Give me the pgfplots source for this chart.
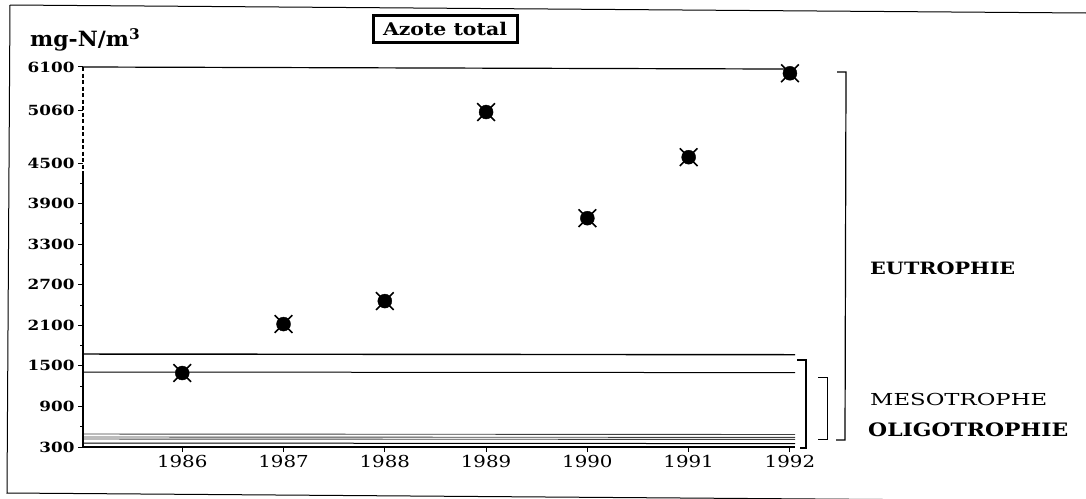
\documentclass[border=0pt]{standalone}
\usepackage{fontspec}
\setmainfont{DejaVu Serif}
\usepackage{graphicx}
\usepackage{pgfplots}
\pgfplotsset{compat=1.18}
\newcommand{\yl}[1]{\scalebox{1.2}[1]{\fontsize{14}{14}\selectfont\bfseries #1}}
\newcommand{\xl}[1]{\scalebox{1.2}[1]{\fontsize{16.5}{16.5}\selectfont #1}}
\begin{document}
\begin{tikzpicture}[x=1pt,y=1pt]
\useasboundingbox (0,0) rectangle (1086,-498);
% outer frame
\draw[line width=1pt] (10,-5) -- (1086,-13);
\draw[line width=1pt] (10,-5) -- (7,-493) -- (1086,-501);
\begin{axis}[
  at={(83pt,-447pt)}, anchor=south west,
  scale only axis, width=712pt, height=380pt,
  xmin=1985.02, xmax=1992.05,
  ymin=300, ymax=5920,
  axis x line*=bottom, axis y line*=left,
  y axis line style={draw=none},
  x axis line style={line width=1.2pt,-},
  tick align=outside,
  major tick length=5pt, minor tick length=3pt,
  tick style={black, line width=1pt},
  xtick={1986,1987,1988,1989,1990,1991,1992},
  xticklabels={\xl{1986},\xl{1987},\xl{1988},\xl{1989},\xl{1990},\xl{1991},\xl{1992}},
  ytick={300,900,1500,2100,2700,3300,3900,4500,5280,5920},
  yticklabels={\yl{300},\yl{900},\yl{1500},\yl{2100},\yl{2700},\yl{3300},\yl{3900},\yl{4500},\yl{5060},\yl{6100}},
  minor ytick={600,1200,1800,2400,3000,3600,4200},
  clip=false,
]
% threshold lines
\addplot[black, line width=1.4pt] coordinates {(1985.02,1675) (1992.05,1665)};
\addplot[black, line width=1pt] coordinates {(1985.02,1409) (1992.05,1400)};
\addplot[black!75, line width=0.9pt] coordinates {(1985.02,492) (1992.05,485)};
\addplot[black!75, line width=0.9pt] coordinates {(1985.02,448) (1992.05,442)};
\addplot[black!75, line width=0.9pt] coordinates {(1985.02,418) (1992.05,412)};
\addplot[black, line width=1pt] coordinates {(1985.02,359) (1992.05,350)};
% top line
\addplot[black, line width=1.2pt] coordinates {(1985.02,5920) (1991.97,5890)};
% data
\addplot[only marks, mark=x, mark size=12.5pt, mark options={line width=1.6pt}, black] coordinates {
(1986,1394) (1987,2118) (1988,2458) (1989,5254) (1990,3684) (1991,4586) (1992,5827)};
\addplot[only marks, mark=*, mark size=7pt, black] coordinates {
(1986,1394) (1987,2118) (1988,2458) (1989,5254) (1990,3684) (1991,4586) (1992,5827)};
\end{axis}
% left axis line: dashed on top, solid below
\draw[dash pattern=on 4pt off 2.5pt, line width=1.4pt] (83,-67) -- (83,-175);
\draw[line width=1.2pt] (83,-175) -- (83,-447);
% brackets
\draw[line width=1.2pt] (797,-360) -- (806,-360) -- (806,-448) -- (800,-448);
\draw[line width=0.9pt] (818,-377) -- (827,-377) -- (827,-439) -- (818,-439);
\draw[line width=1.2pt] (837,-72) -- (846,-72) -- (845,-440) -- (836,-440);
% title
\node[draw, line width=3pt, minimum width=144pt, minimum height=27pt, inner sep=0pt] at (445,-28.5)
  {\resizebox{124pt}{\height}{\fontsize{17.5}{18}\selectfont\bfseries Azote total}};
% unit label
\node[anchor=west, inner sep=0pt] at (30,-40)
  {\resizebox{110pt}{\height}{\fontsize{21}{21}\selectfont\bfseries mg-N/m\textsuperscript{3}}};
% trophic labels
\node[anchor=west, inner sep=0pt] at (870,-268)
  {\resizebox{145pt}{\height}{\fontsize{17}{17}\selectfont\bfseries EUTROPHIE}};
\node[anchor=west, inner sep=0pt] at (870,-399)
  {\resizebox{177pt}{\height}{\fontsize{16.5}{17}\selectfont MESOTROPHE}};
\node[anchor=west, inner sep=0pt] at (868,-430)
  {\resizebox{200pt}{\height}{\fontsize{18.5}{19}\selectfont\bfseries OLIGOTROPHIE}};
\end{tikzpicture}
\end{document}
